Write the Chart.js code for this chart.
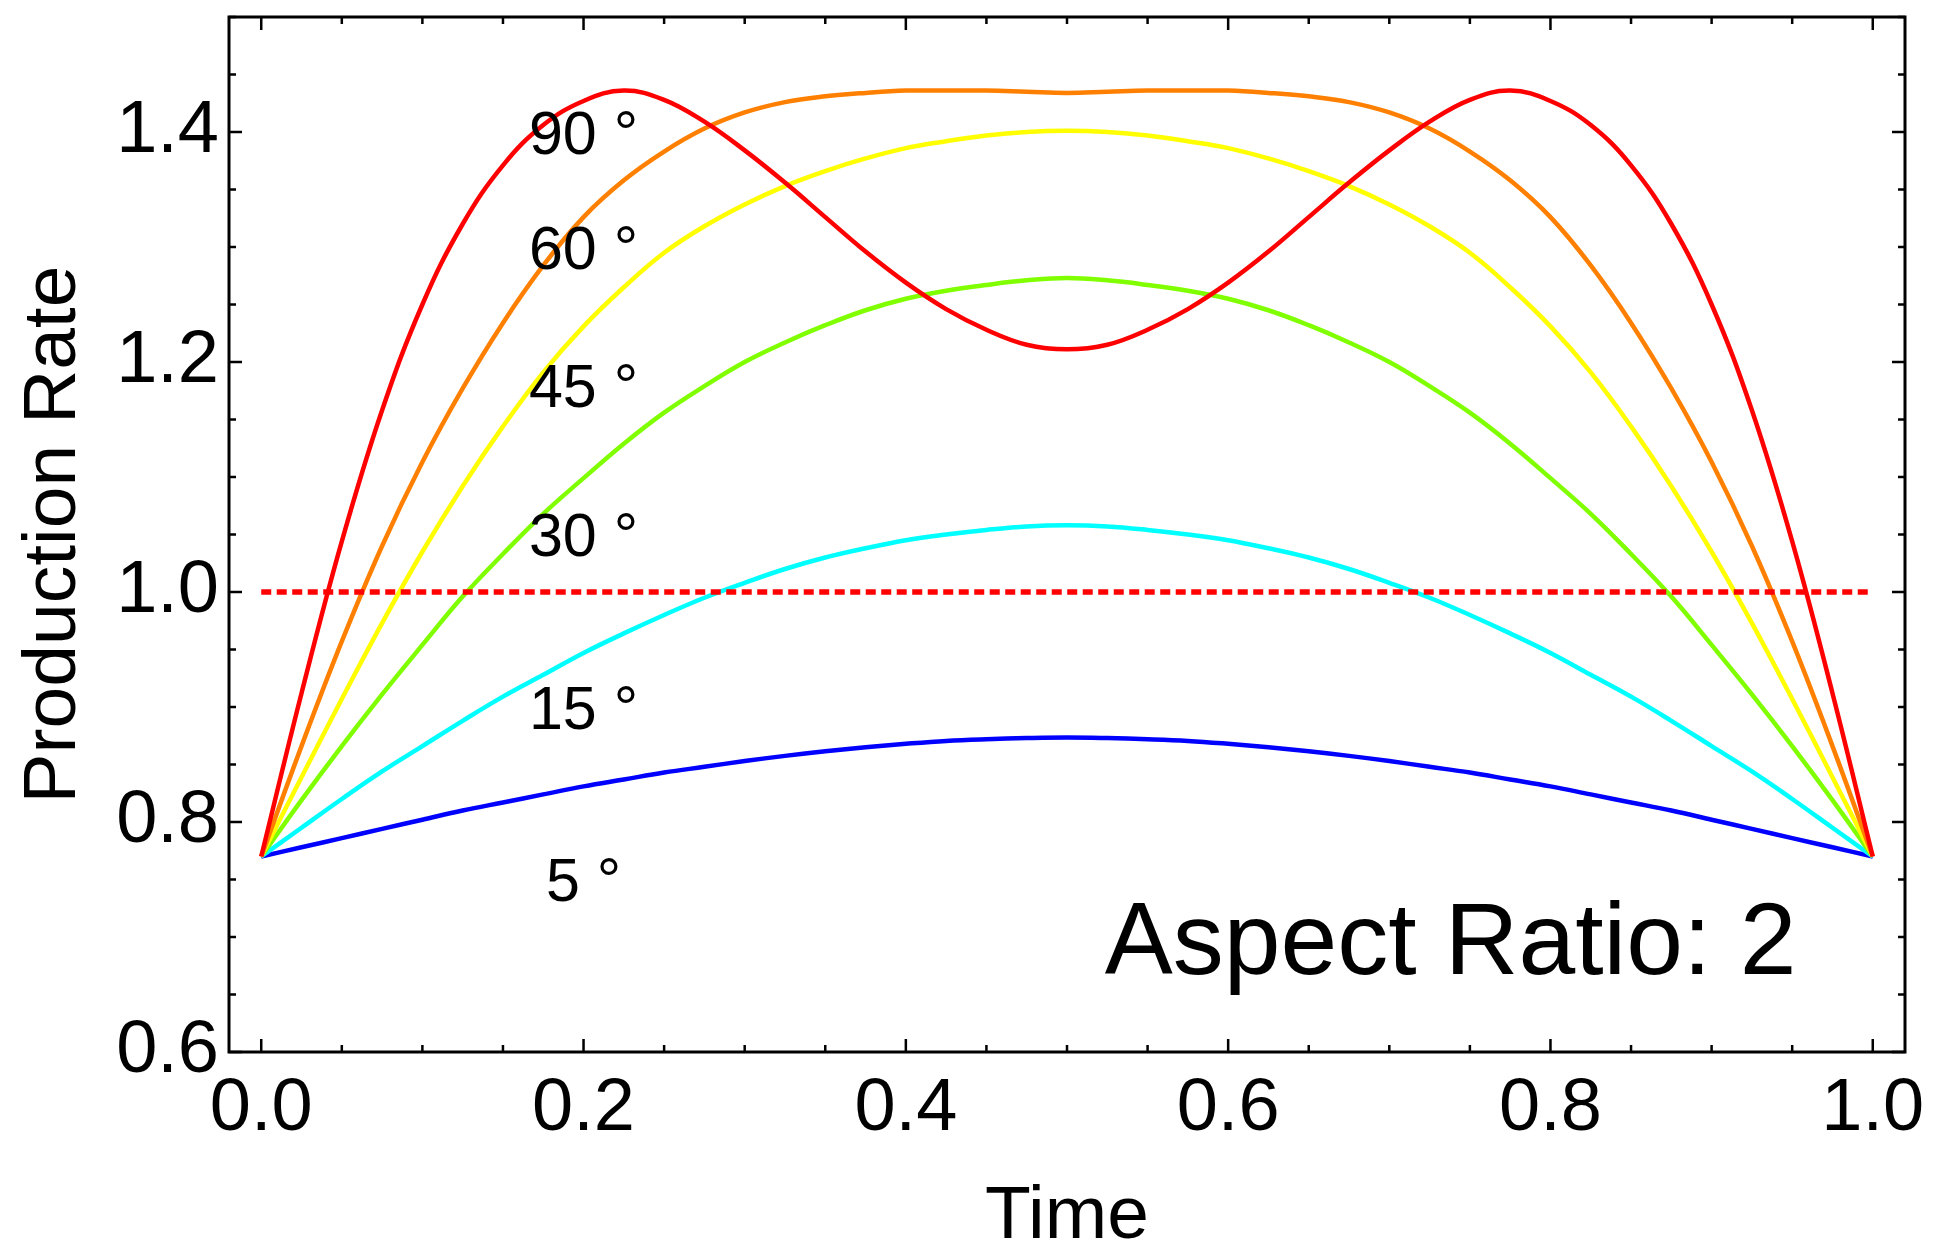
<!DOCTYPE html>
<html lang="en">
<head>
  <meta charset="UTF-8">
  <title>Production Rate vs Time</title>
  <script src="https://cdn.jsdelivr.net/npm/chart.js"></script>
  <style>
    body {
      margin: 0;
      background-color: #ffffff;
    }
    canvas {
      display: block;
    }
  </style>
</head>
<body>
  <canvas id="rateChart" width="1933" height="1242"></canvas>

  <script>
    // sample times shared by every curve
    const timeGrid = [
      0, 0.025, 0.05, 0.075, 0.1, 0.125, 0.15, 0.175, 0.2, 0.225,
      0.25, 0.275, 0.3, 0.325, 0.35, 0.375, 0.4, 0.425, 0.45, 0.475,
      0.5, 0.525, 0.55, 0.575, 0.6, 0.625, 0.65, 0.675, 0.7, 0.725,
      0.75, 0.775, 0.8, 0.825, 0.85, 0.875, 0.9, 0.925, 0.95, 0.975, 1
    ];

    // production rate for each inclination angle
    const rate90 = [
      0.770, 0.912, 1.044, 1.158, 1.250, 1.320, 1.371, 1.406, 1.427, 1.436,
      1.428, 1.409, 1.384, 1.356, 1.326, 1.296, 1.269, 1.246, 1.228, 1.215,
      1.211, 1.215, 1.228, 1.246, 1.269, 1.296, 1.326, 1.356, 1.384, 1.409,
      1.428, 1.436, 1.427, 1.406, 1.371, 1.320, 1.250, 1.158, 1.044, 0.912, 0.770
    ];
    const rate60 = [
      0.770, 0.866, 0.957, 1.040, 1.113, 1.177, 1.234, 1.284, 1.326, 1.358,
      1.383, 1.403, 1.417, 1.426, 1.431, 1.434, 1.436, 1.436, 1.436, 1.435,
      1.434, 1.435, 1.436, 1.436, 1.436, 1.434, 1.431, 1.426, 1.417, 1.403,
      1.383, 1.358, 1.326, 1.284, 1.234, 1.177, 1.113, 1.040, 0.957, 0.866, 0.770
    ];
    const rate45 = [
      0.770, 0.839, 0.907, 0.973, 1.035, 1.092, 1.144, 1.191, 1.231, 1.265,
      1.295, 1.318, 1.337, 1.353, 1.366, 1.377, 1.386, 1.392, 1.397, 1.400,
      1.401, 1.400, 1.397, 1.392, 1.386, 1.377, 1.366, 1.353, 1.337, 1.318,
      1.295, 1.265, 1.231, 1.191, 1.144, 1.092, 1.035, 0.973, 0.907, 0.839, 0.770
    ];
    const rate30 = [
      0.770, 0.819, 0.866, 0.911, 0.954, 0.996, 1.033, 1.068, 1.099, 1.129,
      1.156, 1.179, 1.200, 1.217, 1.232, 1.245, 1.255, 1.262, 1.267, 1.271,
      1.273, 1.271, 1.267, 1.262, 1.255, 1.245, 1.232, 1.217, 1.200, 1.179,
      1.156, 1.129, 1.099, 1.068, 1.033, 0.996, 0.954, 0.911, 0.866, 0.819, 0.770
    ];
    const rate15 = [
      0.770, 0.795, 0.820, 0.844, 0.866, 0.888, 0.909, 0.928, 0.947, 0.964,
      0.980, 0.995, 1.008, 1.020, 1.030, 1.038, 1.045, 1.050, 1.054, 1.057,
      1.058, 1.057, 1.054, 1.050, 1.045, 1.038, 1.030, 1.020, 1.008, 0.995,
      0.980, 0.964, 0.947, 0.928, 0.909, 0.888, 0.866, 0.844, 0.820, 0.795, 0.770
    ];
    const rate5 = [
      0.770, 0.778, 0.786, 0.794, 0.802, 0.810, 0.817, 0.824, 0.831, 0.837,
      0.843, 0.848, 0.853, 0.8575, 0.8615, 0.865, 0.868, 0.8705, 0.872, 0.873,
      0.8735, 0.873, 0.872, 0.8705, 0.868, 0.865, 0.8615, 0.8575, 0.853, 0.848,
      0.843, 0.837, 0.831, 0.824, 0.817, 0.810, 0.802, 0.794, 0.786, 0.778, 0.770
    ];

    const referenceRate = 1.0;

    const xTickValues = [0, 0.2, 0.4, 0.6, 0.8, 1.0];
    const yTickValues = [0.6, 0.8, 1.0, 1.2, 1.4];

    // curve labels, all anchored at the same time value
    const angleLabels = ["90 °", "60 °", "45 °", "30 °", "15 °", "5 °"];
    const angleLabelRates = [1.40, 1.30, 1.18, 1.05, 0.90, 0.75];
    const angleLabelTime = 0.2;

    const noteText = "Aspect Ratio: 2";
    const noteTime = 0.738;
    const noteRate = 0.70;

    const FONT = "Arial, 'Liberation Sans', sans-serif";

    function toPoints(values) {
      return timeGrid.map((t, i) => ({ x: t, y: values[i] }));
    }

    function curve(values, color) {
      return {
        data: toPoints(values),
        borderColor: color,
        borderWidth: 4.5,
        pointRadius: 0,
        fill: false,
        tension: 0.4
      };
    }

    const datasets = [
      {
        data: [{ x: 0, y: referenceRate }, { x: 1, y: referenceRate }],
        borderColor: "#ff0000",
        borderWidth: 5.5,
        borderDash: [10, 5.5],
        pointRadius: 0,
        fill: false
      },
      curve(rate90, "#ff0000"),
      curve(rate60, "#ff8000"),
      curve(rate45, "#ffff00"),
      curve(rate30, "#80ff00"),
      curve(rate15, "#00ffff"),
      curve(rate5, "#0000ff")
    ];

    // box frame with inward ticks on all sides, plus the text annotations
    const frameAndText = {
      id: "frameAndText",
      afterDraw(chart) {
        const { ctx, chartArea: a, scales } = chart;
        const x = scales.x, y = scales.y;
        ctx.save();

        ctx.strokeStyle = "#000000";
        ctx.lineWidth = 2.5;
        ctx.beginPath();
        for (let i = 0; i <= 20; i++) {
          const px = x.getPixelForValue(i * 0.05);
          const len = i % 4 === 0 ? 13 : 7;
          ctx.moveTo(px, a.bottom);
          ctx.lineTo(px, a.bottom - len);
          ctx.moveTo(px, a.top);
          ctx.lineTo(px, a.top + len);
        }
        for (let i = 0; i <= 18; i++) {
          const py = y.getPixelForValue(0.6 + i * 0.05);
          const len = i % 4 === 0 ? 13 : 7;
          ctx.moveTo(a.left, py);
          ctx.lineTo(a.left + len, py);
          ctx.moveTo(a.right, py);
          ctx.lineTo(a.right - len, py);
        }
        ctx.stroke();

        ctx.lineWidth = 3;
        ctx.strokeRect(a.left, a.top, a.right - a.left, a.bottom - a.top);

        ctx.fillStyle = "#000000";
        ctx.textAlign = "center";
        ctx.textBaseline = "alphabetic";

        const labelSize = 61;
        ctx.font = labelSize + "px " + FONT;
        const lx = x.getPixelForValue(angleLabelTime);
        angleLabels.forEach((txt, i) => {
          const ly = y.getPixelForValue(angleLabelRates[i]) + 0.358 * labelSize;
          ctx.fillText(txt, lx, ly);
        });

        const noteSize = 102;
        ctx.font = noteSize + "px " + FONT;
        ctx.fillText(noteText, x.getPixelForValue(noteTime),
          y.getPixelForValue(noteRate) + 0.358 * noteSize);

        ctx.restore();
      }
    };

    const tickFont = { family: FONT, size: 74 };

    new Chart(document.getElementById("rateChart").getContext("2d"), {
      type: "line",
      data: { datasets },
      options: {
        responsive: false,
        animation: false,
        layout: { padding: { top: 17, right: 28, left: 0, bottom: 0 } },
        plugins: {
          legend: { display: false },
          tooltip: { enabled: false }
        },
        scales: {
          x: {
            type: "linear",
            min: -0.02,
            max: 1.02,
            afterBuildTicks: scale => {
              scale.ticks = xTickValues.map(v => ({ value: v }));
            },
            afterFit: scale => {
              scale.height = 190;
              scale.paddingLeft = 0;
              scale.paddingRight = 0;
            },
            grid: { display: false, drawTicks: false },
            border: { display: false },
            ticks: {
              font: tickFont,
              color: "#000000",
              padding: 13,
              maxRotation: 0,
              autoSkip: false,
              callback: v => Number(v).toFixed(1)
            },
            title: {
              display: true,
              text: "Time",
              color: "#000000",
              font: { family: FONT, size: 75, lineHeight: 0.66 },
              padding: 0
            }
          },
          y: {
            min: 0.6,
            max: 1.5,
            afterBuildTicks: scale => {
              scale.ticks = yTickValues.map(v => ({ value: v }));
            },
            afterFit: scale => {
              scale.width = 229;
              scale.paddingTop = 0;
              scale.paddingBottom = 0;
            },
            grid: { display: false, drawTicks: false },
            border: { display: false },
            ticks: {
              font: tickFont,
              color: "#000000",
              padding: 10,
              callback: v => Number(v).toFixed(1)
            },
            title: {
              display: true,
              text: "Production Rate",
              color: "#000000",
              font: { family: FONT, size: 75, lineHeight: 1.46 },
              padding: 0
            }
          }
        }
      },
      plugins: [frameAndText]
    });
  </script>
</body>
</html>
